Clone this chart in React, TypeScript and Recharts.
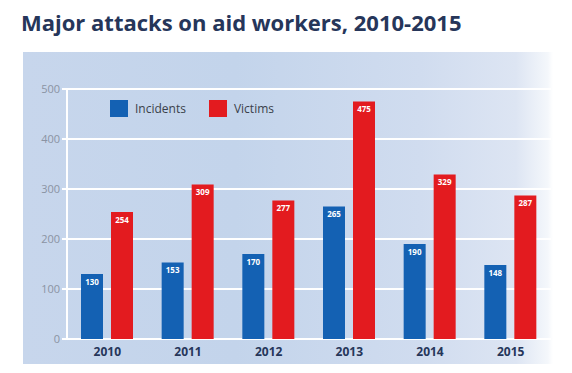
import React from "react";
import {
  BarChart,
  Bar,
  XAxis,
  YAxis,
  CartesianGrid,
  LabelList,
} from "recharts";

const years = ["2010", "2011", "2012", "2013", "2014", "2015"];
const incidents = [130, 153, 170, 265, 190, 148];
const victims = [254, 309, 277, 475, 329, 287];
const yTicks = [0, 100, 200, 300, 400, 500];

const BLUE = "#1461b3";
const RED = "#e31b1f";
const NAVY = "#26365a";

const data = years.map((year, i) => ({
  year,
  incidents: incidents[i],
  victims: victims[i],
}));

function LegendBox() {
  const items = [
    { label: "Incidents", color: BLUE },
    { label: "Victims", color: RED },
  ];
  return (
    <div style={{ display: "flex", alignItems: "center", gap: 23 }}>
      {items.map((it) => (
        <div key={it.label} style={{ display: "flex", alignItems: "center", gap: 7 }}>
          <span style={{ width: 18, height: 17, background: it.color, display: "inline-block" }} />
          <span style={{ fontSize: 12, color: "#3a3f4a" }}>{it.label}</span>
        </div>
      ))}
    </div>
  );
}

export default function App() {
  return (
    <div
      style={{
        position: "absolute",
        left: 0,
        top: 0,
        width: 572,
        height: 373,
        background: "#fff",
        fontFamily: "Open Sans, sans-serif",
      }}
    >
      <div
        style={{
          position: "absolute",
          left: 21,
          top: 7,
          fontSize: 22,
          fontWeight: 700,
          color: NAVY,
          whiteSpace: "nowrap",
        }}
      >
        Major attacks on aid workers, 2010-2015
      </div>
      {/* light blue panel behind the plot */}
      <div
        style={{
          position: "absolute",
          left: 23,
          top: 52,
          width: 530,
          height: 312,
          background:
            "linear-gradient(90deg, #c7d6ec 0%, #c3d4eb 40%, #d0dcef 75%, #dde5f3 93%, #f4f7fb 99%, #ffffff 100%)",
        }}
      />
      <div style={{ position: "absolute", left: 0, top: 0 }}>
        <BarChart
          width={572}
          height={373}
          data={data}
          margin={{ top: 89, right: 21, bottom: 4, left: 0 }}
          barSize={22}
          barGap={8}
        >
          <CartesianGrid vertical={false} stroke="#ffffff" strokeWidth={2} />
          <XAxis
            dataKey="year"
            height={30}
            axisLine={false}
            tickLine={false}
            tickSize={0}
            tickMargin={8}
            tick={{ fontSize: 12, fontWeight: 700, fill: NAVY }}
          />
          <YAxis
            width={67}
            domain={[0, 500]}
            ticks={yTicks}
            axisLine={{ stroke: "#ffffff", strokeWidth: 2 }}
            tickLine={{ stroke: "#ffffff", strokeWidth: 2 }}
            tickSize={5}
            tickMargin={2}
            tick={{ fontSize: 11, fill: "#8a93a3" }}
          />
          <Bar dataKey="incidents" fill={BLUE} isAnimationActive={false}>
            <LabelList
              dataKey="incidents"
              position="insideTop"
              offset={5}
              fill="#ffffff"
              fontSize={8}
              fontWeight={700}
            />
          </Bar>
          <Bar dataKey="victims" fill={RED} isAnimationActive={false}>
            <LabelList
              dataKey="victims"
              position="insideTop"
              offset={5}
              fill="#ffffff"
              fontSize={8}
              fontWeight={700}
            />
          </Bar>
        </BarChart>
      </div>
      <div style={{ position: "absolute", left: 110, top: 100 }}>
        <LegendBox />
      </div>
    </div>
  );
}
